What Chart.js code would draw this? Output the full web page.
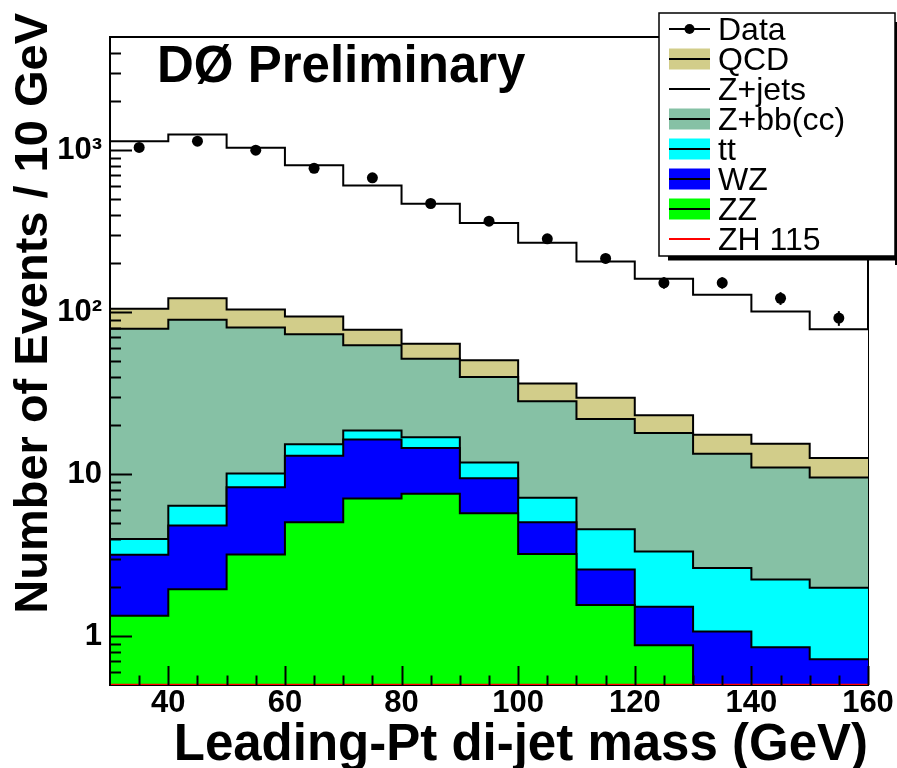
<!DOCTYPE html>
<html>
<head>
<meta charset="utf-8">
<script src="https://cdn.jsdelivr.net/npm/chart.js@4.4.1/dist/chart.umd.min.js"></script>
<style>
html,body{margin:0;padding:0;background:#ffffff;}
#wrap{width:897px;height:768px;position:relative;}
</style>
</head>
<body>
<div id="wrap"><canvas id="c" width="897" height="768"></canvas></div>
<script>
// ---------------- data ----------------
const binEdges   = [30, 40, 50, 60, 70, 80, 90, 100, 110, 120, 130, 140, 150, 160];
const binCenters = [35, 45, 55, 65, 75, 85, 95, 105, 115, 125, 135, 145, 155];
const dataCounts = [1040, 1137, 1000, 774, 676, 469, 365, 284, 215, 152, 152, 122, 92];
const zzValues    = [1.34, 1.95, 3.19, 5.06, 7.08, 7.57, 5.75, 3.22, 1.56, 0.88, 0.40, 0.30, 0.20];
const wzValues    = [1.84, 2.87, 5.12, 7.94, 9.32, 6.93, 3.69, 1.84, 1.02, 0.64, 0.67, 0.555, 0.52];
const ttValues    = [0.81, 1.56, 1.79, 2.30, 2.20, 2.40, 2.36, 2.09, 1.99, 1.81, 1.57, 1.385, 1.27];
const zbbValues   = [75, 83.6, 70.4, 57.7, 43.9, 34.7, 28.1, 21.05, 17.33, 14.67, 10.76, 8.76, 7.56];
const qcdValues   = [26, 32, 23.5, 21, 15.5, 12.4, 10.7, 8.1, 7.8, 5.1, 4.1, 4.4, 3.05];
const zjetsValues = [1032, 1128, 931, 714, 528, 403, 305, 232, 176, 138, 110.5, 85.6, 65.9];
const zhValues    = [0.02, 0.03, 0.05, 0.08, 0.12, 0.16, 0.18, 0.15, 0.10, 0.06, 0.04, 0.02, 0.01];
const xTicks = [40, 60, 80, 100, 120, 140, 160];
const yTicks = [1, 10, 100, 1000];
const yTickLabels = ['1', '10', '10\u00B2', '10\u00B3'];
const legendLabels = ['Data', 'QCD', 'Z+jets', 'Z+bb(cc)', 'tt', 'WZ', 'ZZ', 'ZH 115'];
const xTitle = 'Leading-Pt di-jet mass (GeV)';
const yTitle = 'Number of Events / 10 GeV';
const plotLabel = 'D\u00D8 Preliminary';
const X_MIN = 30, X_MAX = 160, Y_MIN = 0.5, Y_MAX = 5000;

// ---------------- styles ----------------
const FONT = "'Liberation Sans', Arial, Helvetica, sans-serif";
const colors = { qcd: '#d2cd8a', zbb: '#86c1a5', tt: '#00ffff', wz: '#0000ff', zz: '#00ff00', zh: '#ff0000', zjets: '#ffffff' };

// ---------------- stacking (bottom -> top) ----------------
const stackSeries = [zzValues, wzValues, ttValues, zbbValues, qcdValues, zjetsValues];
const cumulative = [];
let running = zzValues.map(() => 0);
stackSeries.forEach(s => { running = running.map((r, i) => r + s[i]); cumulative.push(running); });
function stepPoints(vals) {
  return binEdges.map((e, i) => ({ x: e, y: vals[Math.min(i, vals.length - 1)] }));
}
function histDataset(label, vals, fillColor) {
  return { label, data: stepPoints(vals), stepped: true, fill: 'start', backgroundColor: fillColor,
           borderColor: '#000000', borderWidth: 2, pointRadius: 0, pointHoverRadius: 0 };
}

const datasets = [
  { label: 'Data', data: binCenters.map((x, i) => ({ x, y: dataCounts[i] })), showLine: false,
    pointRadius: 5.5, pointHoverRadius: 5.5, pointBackgroundColor: '#000000', pointBorderWidth: 0, borderColor: '#000000' },
  { label: 'ZH 115', data: stepPoints(zhValues.map(v => Math.max(v, Y_MIN))), stepped: true, fill: false,
    borderColor: colors.zh, borderWidth: 2.5, pointRadius: 0, pointHoverRadius: 0 },
  histDataset('ZZ', cumulative[0], colors.zz),
  histDataset('WZ', cumulative[1], colors.wz),
  histDataset('tt', cumulative[2], colors.tt),
  histDataset('Z+bb(cc)', cumulative[3], colors.zbb),
  histDataset('QCD', cumulative[4], colors.qcd),
  histDataset('Z+jets', cumulative[5], colors.zjets)
];

// ---------------- plugins ----------------
const framePlugin = {
  id: 'frame',
  afterLayout(chart) {
    // ROOT-style: y title is right-aligned to a point above the frame
    chart.scales.y.top = 13;
  },
  beforeDatasetsDraw(chart) {
    const { ctx, chartArea: a } = chart;
    ctx.save();
    ctx.strokeStyle = '#000'; ctx.lineWidth = 2;
    ctx.strokeRect(a.left, a.top, a.right - a.left, a.bottom - a.top);
    ctx.restore();
  },
  afterDatasetsDraw(chart) {
    const { ctx, chartArea: a, scales } = chart;
    const xs = scales.x, ys = scales.y;
    ctx.save();
    // error bars on data
    ctx.strokeStyle = '#000'; ctx.lineWidth = 2;
    binCenters.forEach((x, i) => {
      const n = dataCounts[i], e = Math.sqrt(n);
      const px = xs.getPixelForValue(x);
      ctx.beginPath();
      ctx.moveTo(px, ys.getPixelForValue(n + e));
      ctx.lineTo(px, ys.getPixelForValue(n - e));
      ctx.stroke();
    });
    // left frame edge
    ctx.beginPath(); ctx.moveTo(a.left, a.top); ctx.lineTo(a.left, a.bottom); ctx.stroke();
    // y ticks (inside)
    ctx.lineWidth = 2;
    for (let d = -1; d <= 3; d++) {
      for (let k = 1; k <= 9; k++) {
        const v = k * Math.pow(10, d);
        if (v <= Y_MIN || v >= Y_MAX) continue;
        const py = Math.round(ys.getPixelForValue(v)) + 0.5;
        const len = (k === 1) ? 22 : 11;
        ctx.beginPath(); ctx.moveTo(a.left, py); ctx.lineTo(a.left + len, py); ctx.stroke();
      }
    }
    // x ticks (inside)
    for (let v = X_MIN + 5; v <= X_MAX; v += 5) {
      const px = Math.round(xs.getPixelForValue(v)) + 0.5;
      const len = xTicks.includes(v) ? 19 : 9.5;
      ctx.beginPath(); ctx.moveTo(px, a.bottom); ctx.lineTo(px, a.bottom - len); ctx.stroke();
    }
    // plot label
    ctx.fillStyle = '#000';
    ctx.font = 'bold 51px ' + FONT;
    ctx.textAlign = 'left'; ctx.textBaseline = 'alphabetic';
    ctx.fillText(plotLabel, 157, 82);
    ctx.restore();
  },
  afterDraw(chart) {
    const { ctx } = chart;
    ctx.save();
    const bx = 659, by = 13, bw = 236, bh = 243;
    // shadow
    ctx.fillStyle = '#000';
    ctx.fillRect(bx + 9, by + bh, bw, 4.5);
    ctx.fillRect(bx + bw, by + 9, 4, bh);
    // box
    ctx.fillStyle = '#fff';
    ctx.fillRect(bx, by, bw, bh);
    ctx.strokeStyle = '#000'; ctx.lineWidth = 1.5;
    ctx.strokeRect(bx, by, bw, bh);
    const swatchFill = [null, colors.qcd, null, colors.zbb, colors.tt, colors.wz, colors.zz, null];
    const lineColor = ['#000', '#000', '#000', '#000', '#000', '#000', '#000', colors.zh];
    const x0 = 669, x1 = 710;
    legendLabels.forEach((lab, i) => {
      const ry = 29 + 30 * i;
      if (swatchFill[i]) {
        ctx.fillStyle = swatchFill[i];
        ctx.fillRect(x0, ry - 10.5, x1 - x0, 21);
      }
      ctx.strokeStyle = lineColor[i]; ctx.lineWidth = 2;
      ctx.beginPath(); ctx.moveTo(x0, ry); ctx.lineTo(x1, ry); ctx.stroke();
      if (i === 0) {
        ctx.fillStyle = '#000';
        ctx.beginPath(); ctx.arc((x0 + x1) / 2, ry, 5, 0, Math.PI * 2); ctx.fill();
      }
      ctx.fillStyle = '#000';
      ctx.font = '32px ' + FONT;
      ctx.textAlign = 'left'; ctx.textBaseline = 'middle';
      ctx.fillText(lab, 718, ry + 2.5);
    });
    ctx.restore();
  }
};

Chart.defaults.font.family = FONT;
Chart.defaults.color = '#000';

new Chart(document.getElementById('c'), {
  type: 'line',
  data: { datasets },
  options: {
    responsive: false,
    animation: false,
    events: [],
    devicePixelRatio: 1,
    layout: { padding: { top: 37, right: 29, left: 0, bottom: 0 } },
    elements: { line: { tension: 0 } },
    plugins: { legend: { display: false }, tooltip: { enabled: false } },
    scales: {
      x: {
        type: 'linear', min: X_MIN, max: X_MAX,
        afterBuildTicks: s => { s.ticks = xTicks.map(v => ({ value: v })); },
        afterFit: s => { s.height = 83; s.paddingLeft = 0; s.paddingRight = 0; },
        grid: { display: false, drawTicks: false },
        border: { display: false },
        ticks: { autoSkip: false, maxRotation: 0, padding: 3, color: '#000',
                 font: { size: 31, weight: 'bold', lineHeight: 1 },
                 callback: v => String(v) },
        title: { display: true, text: xTitle, align: 'end', color: '#000',
                 font: { size: 51, weight: 'bold', lineHeight: 1 }, padding: { top: 0, bottom: -3 } }
      },
      y: {
        type: 'logarithmic', min: Y_MIN, max: Y_MAX,
        afterBuildTicks: s => { s.ticks = yTicks.map(v => ({ value: v })); },
        afterFit: s => { s.width = 110; s.paddingTop = 0; s.paddingBottom = 0; },
        grid: { display: false, drawTicks: false },
        border: { display: false },
        ticks: { autoSkip: false, padding: 8, color: '#000',
                 font: { size: 31, weight: 'bold', lineHeight: 1 },
                 callback: (v) => yTickLabels[yTicks.indexOf(v)] },
        title: { display: true, text: yTitle, align: 'end', color: '#000',
                 font: { size: 47, weight: 'bold', lineHeight: 1 }, padding: { top: 11, bottom: 0 } }
      }
    }
  },
  plugins: [framePlugin]
});
</script>
</body>
</html>
